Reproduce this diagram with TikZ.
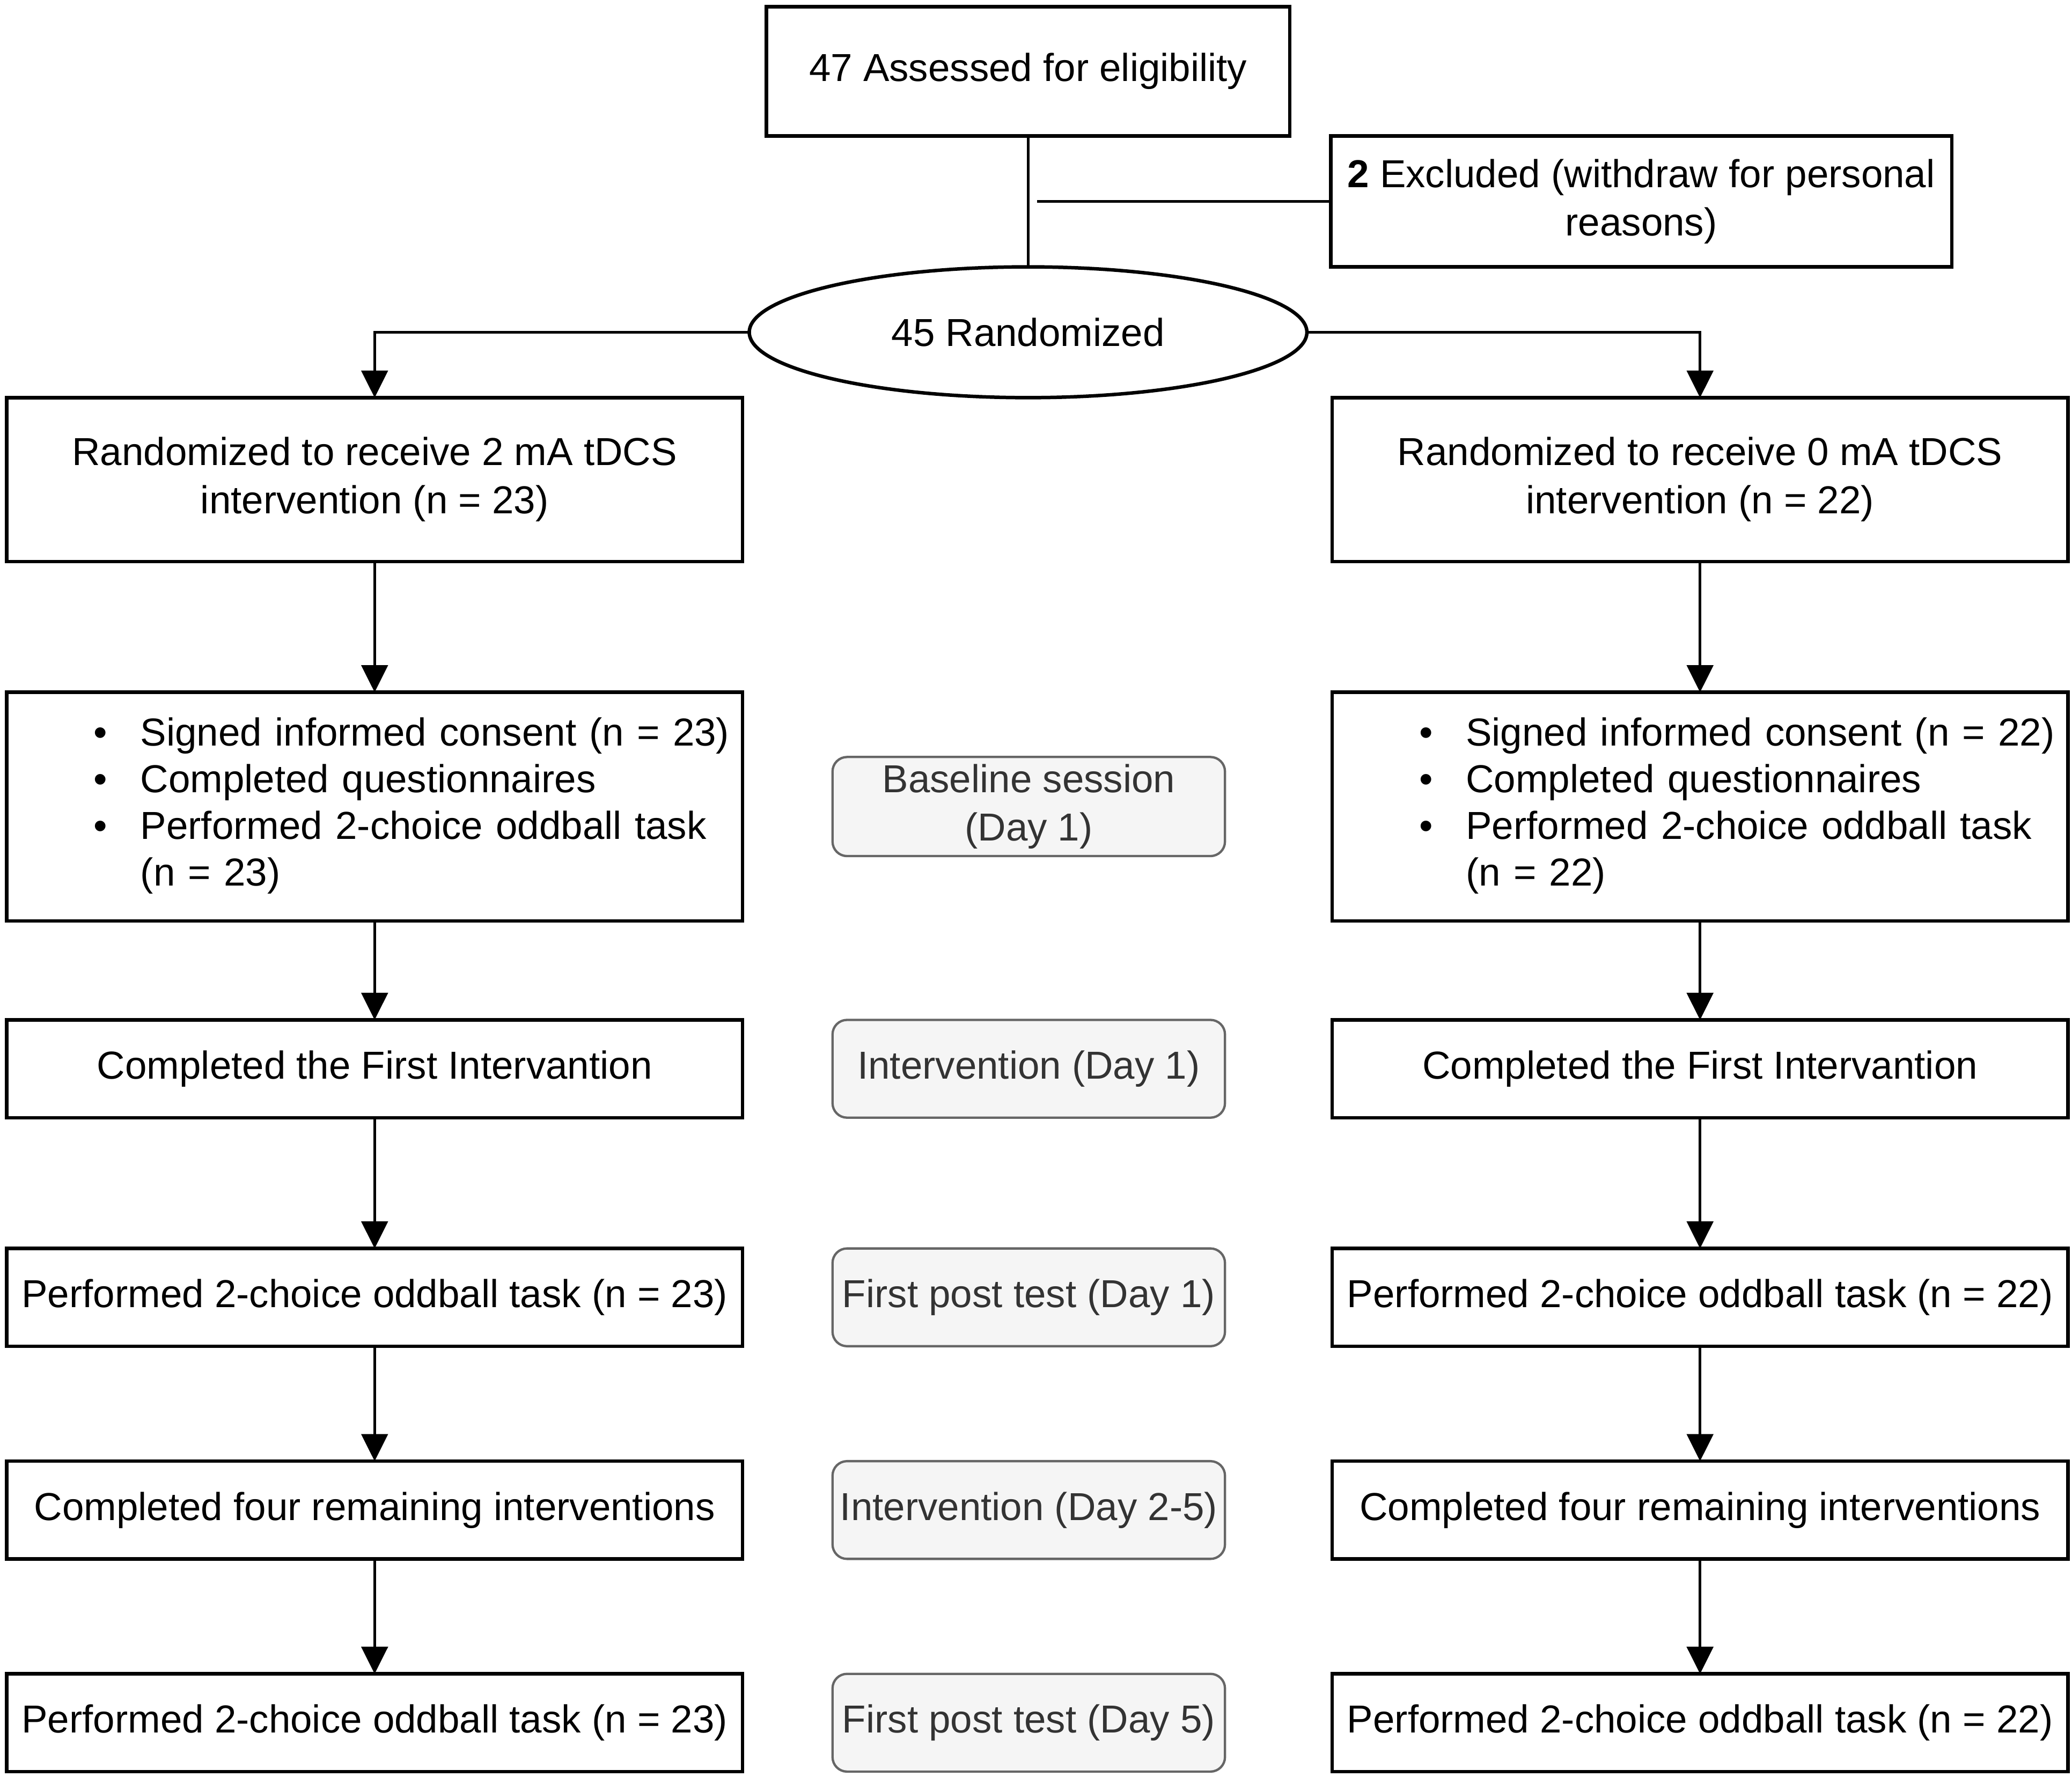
\documentclass[tikz,border=0pt]{standalone}
\usepackage{fontspec}
\setmainfont{Liberation Sans}
\usetikzlibrary{positioning,shapes.geometric,arrows.meta}
\definecolor{stagefill}{HTML}{F5F5F5}
\definecolor{stageline}{HTML}{666666}
\definecolor{stagetext}{HTML}{333333}
\newcommand{\sessionlist}[1]{%
  \fontsize{16.8pt}{20.1pt}\selectfont
  \begin{tabular}{@{\hspace{1.32cm}}c@{\hspace{0.5cm}}l@{}}
    \textbullet & Signed informed consent (n = #1)\\
    \textbullet & Completed questionnaires\\
    \textbullet & Performed 2-choice oddball task\\
                & (n = #1)
  \end{tabular}}

\begin{document}
\begin{tikzpicture}[>={Triangle[length=0.41cm,width=0.4cm]}]
        \useasboundingbox (0,0) rectangle (31.36,-26.9);
        \tikzstyle{every node}=[font=\fontsize{16.8pt}{20.8pt}\selectfont, outer sep=0pt, inner sep=0pt]
        \tikzstyle{block} = [draw, line width=1.5pt, minimum width=11.14cm, align=center]
        \tikzstyle{stage} = [draw=stageline, line width=1pt, fill=stagefill, text=stagetext, rounded corners=0.22cm, minimum width=5.94cm, minimum height=1.48cm, align=center]
        \tikzstyle{oval} = [draw, ellipse, line width=1.5pt, minimum width=8.44cm, minimum height=1.98cm]
        \tikzstyle{link} = [line width=1.1pt]
        % enrolment
        \node[block, minimum width=7.92cm, minimum height=1.96cm](assess) at (15.56,-1.08){47 Assessed for eligibility};
        \node[block, minimum width=9.4cm, minimum height=1.98cm](excl) at (24.84,-3.05){\textbf{2} Excluded (withdraw for personal\\reasons)};
        \node[oval](rand)[below=1.98cm of assess]{45 Randomized};
        % 2 mA group
        \node[block, minimum height=2.48cm](l1) at (5.67,-7.26){Randomized to receive 2 mA tDCS\\intervention (n = 23)};
        \node[block, minimum height=3.46cm, text width=11.14cm, align=left](l2)[below=1.98cm of l1]{\sessionlist{23}};
        \node[block, minimum height=1.48cm](l3)[below=1.5cm of l2]{Completed the First Intervantion};
        \node[block, minimum height=1.48cm](l4)[below=1.98cm of l3]{Performed 2-choice oddball task (n = 23)};
        \node[block, minimum height=1.48cm](l5)[below=1.74cm of l4]{Completed four remaining interventions};
        \node[block, minimum height=1.48cm](l6)[below=1.74cm of l5]{Performed 2-choice oddball task (n = 23)};
        % 0 mA group
        \node[block, minimum height=2.48cm](r1)[right=8.92cm of l1]{Randomized to receive 0 mA tDCS\\intervention (n = 22)};
        \node[block, minimum height=3.46cm, text width=11.14cm, align=left](r2)[right=8.92cm of l2]{\sessionlist{22}};
        \node[block, minimum height=1.48cm](r3)[right=8.92cm of l3]{Completed the First Intervantion};
        \node[block, minimum height=1.48cm](r4)[right=8.92cm of l4]{Performed 2-choice oddball task (n = 22)};
        \node[block, minimum height=1.48cm](r5)[right=8.92cm of l5]{Completed four remaining interventions};
        \node[block, minimum height=1.48cm](r6)[right=8.92cm of l6]{Performed 2-choice oddball task (n = 22)};
        % sessions
        \node[stage, minimum height=1.5cm](baseline)[right=1.36cm of l2]{Baseline session\\(Day 1)};
        \node[stage](firstint)[right=1.36cm of l3]{Intervention (Day 1)};
        \node[stage](firstpost)[right=1.36cm of l4]{First post test (Day 1)};
        \node[stage](restint)[right=1.36cm of l5]{Intervention (Day 2-5)};
        \node[stage](lastpost)[right=1.36cm of l6]{First post test (Day 5)};
        % connectors
        \coordinate (split) at ([xshift=0.14cm]assess.south);
        \draw[link] (assess) -- (rand);
        \draw[link] (excl.west) -- (excl.west -| split);
        \draw[link,->] (rand.west) -| (l1.north);
        \draw[link,->] (rand.east) -| (r1.north);
        \draw[link,->] (l1) -- (l2);
        \draw[link,->] (l2) -- (l3);
        \draw[link,->] (l3) -- (l4);
        \draw[link,->] (l4) -- (l5);
        \draw[link,->] (l5) -- (l6);
        \draw[link,->] (r1) -- (r2);
        \draw[link,->] (r2) -- (r3);
        \draw[link,->] (r3) -- (r4);
        \draw[link,->] (r4) -- (r5);
        \draw[link,->] (r5) -- (r6);
    \end{tikzpicture}
\end{document}
